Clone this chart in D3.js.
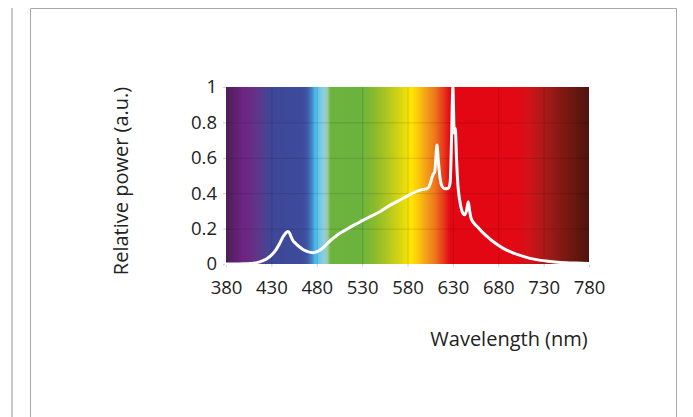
<!DOCTYPE html>
<html>
<head>
<meta charset="utf-8">
<script src="https://cdn.jsdelivr.net/npm/d3@7"></script>
<style>
  html, body { margin: 0; padding: 0; background: #fff; }
  svg { display: block; }
  text { font-family: "Open Sans", "Noto Sans", sans-serif; fill: #222; }
</style>
</head>
<body>
<svg id="chart" width="693" height="417"></svg>
<script>
// ---- data ----
const wavelengths = [380, 390, 400, 405, 410, 415, 420, 425, 430, 435, 440, 443, 446, 448, 450, 452, 454, 456, 458, 461, 464, 468, 472, 476, 480, 484, 488, 492, 496, 500, 505, 510, 515, 520, 525, 530, 540, 550, 560, 570, 580, 590, 596, 601, 604, 606, 608, 610, 611, 612.5, 614, 616, 618, 621, 625, 627, 628.5, 630, 631.5, 632.7, 634, 635.5, 637.5, 640, 643, 645, 647, 648.5, 650, 653, 657, 663, 670, 675, 685, 695, 705, 715, 725, 735, 745, 755, 765, 780];
const power = [0, 0, 0.001, 0.002, 0.004, 0.009, 0.018, 0.03, 0.05, 0.08, 0.125, 0.155, 0.176, 0.184, 0.175, 0.15, 0.13, 0.12, 0.11, 0.097, 0.085, 0.074, 0.067, 0.064, 0.068, 0.08, 0.097, 0.117, 0.137, 0.153, 0.172, 0.187, 0.202, 0.217, 0.23, 0.245, 0.27, 0.297, 0.33, 0.357, 0.385, 0.41, 0.42, 0.425, 0.44, 0.47, 0.505, 0.52, 0.58, 0.672, 0.58, 0.48, 0.44, 0.425, 0.428, 0.46, 0.7, 1.0, 0.74, 0.767, 0.6, 0.45, 0.36, 0.3, 0.278, 0.3, 0.352, 0.3, 0.26, 0.232, 0.21, 0.177, 0.145, 0.124, 0.09, 0.066, 0.047, 0.032, 0.022, 0.015, 0.01, 0.007, 0.005, 0.003];

const xTicks = [380, 430, 480, 530, 580, 630, 680, 730, 780];
const yTicks = [0, 0.2, 0.4, 0.6, 0.8, 1];
const yTickLabels = ["0", "0.2", "0.4", "0.6", "0.8", "1"];

// spectrum colour stops (wavelength, colour)
const specWl = [380, 390, 398, 408, 418, 428, 465, 470, 475, 477.5, 482, 488, 492, 495, 530, 545, 560, 575, 584, 592, 600, 610, 620, 627, 700, 715, 735, 755, 780];
const specCol = ["#4b1f55", "#5f2170", "#6c2382", "#682d86", "#5a3a8c", "#3f4798", "#3d4b9b", "#3e5ba7", "#4688c8", "#3db8ea", "#6cc6e6", "#8ecfe3", "#9acb9c", "#6db43f", "#6cb33e", "#8cbc2a", "#b6c81f", "#e2d90c", "#ffe600", "#fbc70b", "#f4a117", "#ee781d", "#e6381b", "#e30613", "#e20814", "#cf1419", "#a11a17", "#781812", "#4c140d"];

// ---- layout ----
const svg = d3.select("#chart");
const W = 693, H = 417;
const plot = { left: 226, right: 589, top: 87, bottom: 264 };

svg.append("rect").attr("width", W).attr("height", H).attr("fill", "#fff");

// frame lines
svg.append("line").attr("x1", 12).attr("x2", 12).attr("y1", 8).attr("y2", H)
  .attr("stroke", "#c8c8c8").attr("stroke-width", 2);
svg.append("path").attr("d", `M30.5,${H} V8.5 H676.5 V${H}`)
  .attr("fill", "none").attr("stroke", "#a8a8a8").attr("stroke-width", 1);

const x = d3.scaleLinear().domain([380, 780]).range([plot.left, plot.right]);
const y = d3.scaleLinear().domain([0, 1]).range([plot.bottom, plot.top]);

// gradient
const defs = svg.append("defs");
const grad = defs.append("linearGradient").attr("id", "spec")
  .attr("gradientUnits", "userSpaceOnUse")
  .attr("x1", x(380)).attr("x2", x(780)).attr("y1", 0).attr("y2", 0);
specWl.forEach((w, i) => {
  grad.append("stop").attr("offset", (w - 380) / 400).attr("stop-color", specCol[i]);
});

svg.append("rect")
  .attr("x", x(380)).attr("y", y(1))
  .attr("width", x(780) - x(380)).attr("height", y(0) - y(1))
  .attr("fill", "url(#spec)");

// grid lines
const grid = svg.append("g");
grid.selectAll("line.v").data(xTicks.slice(1, -1)).join("line")
  .attr("x1", d => x(d) + 0.5).attr("x2", d => x(d) + 0.5)
  .attr("y1", y(1)).attr("y2", y(0))
  .attr("stroke", "rgba(0,0,0,0.13)").attr("stroke-width", 1);
grid.selectAll("line.h").data(yTicks.slice(1, -1)).join("line")
  .attr("x1", x(380)).attr("x2", x(780))
  .attr("y1", d => y(d) + 0.5).attr("y2", d => y(d) + 0.5)
  .attr("stroke", "rgba(0,0,0,0.13)").attr("stroke-width", 1);

// axes
const xAxis = svg.append("g").attr("transform", `translate(0,${plot.bottom})`)
  .call(d3.axisBottom(x).tickValues(xTicks).tickSize(3).tickPadding(14).tickFormat(d3.format("d")));
xAxis.select(".domain").remove();
xAxis.selectAll(".tick line").attr("stroke", "#cfcfcf");
xAxis.selectAll(".tick text").attr("font-size", 18.5).attr("fill", "#222")
  .attr("font-family", "'Open Sans', 'Noto Sans', sans-serif");

const yAxis = svg.append("g").attr("transform", `translate(${plot.left},0)`)
  .call(d3.axisLeft(y).tickValues(yTicks).tickSize(3).tickPadding(6)
    .tickFormat((d, i) => yTickLabels[i]));
yAxis.select(".domain").remove();
yAxis.selectAll(".tick line").attr("stroke", "#cfcfcf");
yAxis.selectAll(".tick text").attr("font-size", 18.5).attr("fill", "#222")
  .attr("font-family", "'Open Sans', 'Noto Sans', sans-serif");

// curve
const pts = wavelengths.map((w, i) => [w, power[i]]);
svg.append("path").datum(pts)
  .attr("d", d3.line().x(d => x(d[0])).y(d => y(d[1])).curve(d3.curveMonotoneX))
  .attr("fill", "none").attr("stroke", "#fff").attr("stroke-width", 3)
  .attr("stroke-linejoin", "round").attr("stroke-linecap", "round");

// titles
svg.append("text")
  .attr("transform", `translate(128,181) rotate(-90)`)
  .attr("text-anchor", "middle").attr("font-size", 20)
  .text("Relative power (a.u.)");
svg.append("text")
  .attr("x", 509).attr("y", 346)
  .attr("text-anchor", "middle").attr("font-size", 20)
  .text("Wavelength (nm)");
</script>
</body>
</html>
